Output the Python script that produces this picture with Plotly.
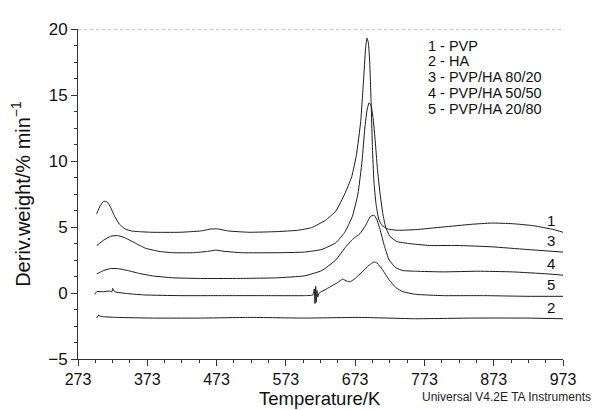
import plotly.graph_objects as go

# Curve 1 - PVP
t1 = [300, 305, 310, 315, 320, 326, 333, 341, 350, 360, 380, 420, 450, 465, 475, 490, 520, 560, 590, 610, 630, 645, 658, 668, 675, 681, 685, 688, 690, 692, 694, 696, 698, 700, 703, 707, 712, 720, 735, 760, 800, 840, 870, 900, 930, 960, 973]
y1 = [6.0, 6.6, 6.95, 6.9, 6.5, 5.8, 5.2, 4.85, 4.7, 4.65, 4.6, 4.6, 4.7, 4.85, 4.85, 4.7, 4.6, 4.65, 4.75, 4.95, 5.5, 6.2, 7.5, 8.8, 10.5, 13, 16, 18.5, 19.3, 19.0, 17.5, 14.5, 11, 8.5, 6.8, 5.6, 5.1, 4.85, 4.75, 4.8, 5.0, 5.2, 5.3, 5.25, 5.1, 4.8, 4.6]

# Curve 2 - HA
t2 = [300, 302, 305, 310, 330, 380, 450, 520, 600, 680, 760, 840, 920, 973]
y2 = [-1.9, -1.7, -1.75, -1.8, -1.85, -1.9, -1.9, -1.85, -1.9, -1.85, -1.95, -1.9, -1.9, -1.95]

# Curve 3 - PVP/HA 80/20
t3 = [300, 310, 320, 330, 340, 355, 370, 390, 410, 440, 460, 472, 485, 510, 560, 600, 625, 645, 658, 669, 677, 683, 687, 690, 693, 696, 699, 702, 705, 709, 713, 717, 723, 733, 750, 780, 820, 870, 920, 973]
y3 = [3.6, 4.0, 4.3, 4.35, 4.2, 3.8, 3.4, 3.15, 3.05, 3.05, 3.15, 3.25, 3.15, 3.05, 3.05, 3.1, 3.3, 3.8, 4.6, 5.8, 7.5, 10, 12.5, 13.8, 14.4, 14.2, 13.2, 11.5, 9.5, 7.5, 6, 5, 4.3, 3.9, 3.75, 3.6, 3.6, 3.5, 3.3, 3.1]

# Curve 4 - PVP/HA 50/50
t4 = [300, 310, 320, 330, 345, 360, 380, 410, 450, 500, 560, 600, 625, 645, 658, 670, 680, 688, 695, 700, 704, 709, 715, 722, 732, 742, 760, 800, 850, 900, 950, 973]
y4 = [1.45, 1.7, 1.85, 1.85, 1.7, 1.5, 1.3, 1.15, 1.1, 1.1, 1.15, 1.3, 1.7, 2.5, 3.4, 4.1, 4.5, 5.1, 5.8, 5.9, 5.6, 4.8, 3.6, 2.5, 1.9, 1.7, 1.65, 1.6, 1.65, 1.6, 1.45, 1.35]

# Curve 5 - PVP/HA 20/80
t5 = [297, 300, 310, 318, 322, 323, 326, 345, 370, 420, 480, 540, 600, 612, 614, 615, 616, 617, 618, 619, 621, 628, 638, 648, 655, 661, 666, 673, 683, 693, 700, 705, 712, 722, 732, 742, 760, 800, 860, 920, 973]
y5 = [-0.1, 0.1, 0.1, 0.15, 0.1, 0.35, 0.1, -0.05, -0.15, -0.2, -0.2, -0.2, -0.2, -0.15, 0.3, -0.8, 0.5, -0.7, 0.2, -0.3, 0.0, 0.2, 0.5, 0.8, 1.05, 0.9, 0.85, 1.1, 1.6, 2.1, 2.35, 2.25, 1.8, 1.0, 0.4, 0.1, -0.1, -0.2, -0.2, -0.25, -0.25]

curve_labels = ["1", "3", "4", "5", "2"]
legend_lines = ["1 - PVP", "2 - HA", "3 - PVP/HA 80/20", "4 - PVP/HA 50/50", "5 - PVP/HA 20/80"]
x_ticks = [273, 373, 473, 573, 673, 773, 873, 973]
y_ticks = [-5, 0, 5, 10, 15, 20]

FONT = "Liberation Sans, Arial, sans-serif"
# the page body adds an 8 px offset; size the figure so it lands on the 610x410 frame
OFF = 8
W, H = 610 - OFF, 410 - OFF
L, R, T, B = 78 - OFF, 47, 20 - OFF, 51
pw, ph = W - L - R, H - T - B


def px2paper(px, py):
    # px, py are positions in the 610x410 picture
    return (px - OFF - L) / pw, 1 - (py - OFF - T) / ph


fig = go.Figure()
for t, y in [(t1, y1), (t2, y2), (t3, y3), (t4, y4), (t5, y5)]:
    fig.add_trace(go.Scatter(x=t, y=y, mode="lines",
                             line=dict(color="#1a1a1a", width=1, shape="spline", smoothing=0.4),
                             showlegend=False, hoverinfo="skip"))

ends = [y1[-1], y3[-1], y4[-1], y5[-1], y2[-1]]
for lab, ye in zip(curve_labels, ends):
    fig.add_annotation(x=955, y=ye, text=lab, showarrow=False, xanchor="center",
                       yanchor="bottom", yshift=1, font=dict(size=15, color="#111", family=FONT))

for i, line in enumerate(legend_lines):
    ax, ay = px2paper(427, 37 + 16.2 * i)
    fig.add_annotation(x=ax, y=ay, xref="paper", yref="paper", text=line,
                       showarrow=False, xanchor="left", yanchor="middle", borderpad=0,
                       font=dict(size=14.5, color="#111", family=FONT))

fig.add_shape(type="line", xref="x", yref="y", x0=273, x1=973, y0=20, y1=20,
              line=dict(color="#888", width=1, dash="dot"))

ux, uy = px2paper(421, 398)
fig.add_annotation(x=ux, y=uy, xref="paper", yref="paper", text="Universal V4.2E TA Instruments",
                   showarrow=False, xanchor="left", yanchor="middle", borderpad=0,
                   font=dict(size=12, color="#222", family=FONT))

tx, ty = px2paper(320, 399.5)
fig.add_annotation(x=tx, y=ty, xref="paper", yref="paper", text="Temperature/K",
                   showarrow=False, xanchor="center", yanchor="middle", borderpad=0,
                   font=dict(size=18.5, color="#111", family=FONT))

fig.update_layout(
    width=W, height=H, margin=dict(l=L, r=R, t=T, b=B),
    plot_bgcolor="white", paper_bgcolor="white",
    font=dict(family=FONT, color="#111"),
    xaxis=dict(range=[273, 973], tickvals=x_ticks, ticktext=[str(v) for v in x_ticks],
               showgrid=False, zeroline=False, showline=True, linecolor="#333", linewidth=1,
               ticks="outside", ticklen=6, tickcolor="#333", tickfont=dict(size=16),
               minor=dict(tickvals=list(range(273, 974, 25)), ticks="outside", ticklen=3, tickcolor="#333")),
    yaxis=dict(range=[-5, 20], tickvals=y_ticks, ticktext=["\u22125", "0", "5", "10", "15", "20"],
               showgrid=False, zeroline=False, showline=True, linecolor="#333", linewidth=1,
               ticks="outside", ticklen=6, tickcolor="#333", tickfont=dict(size=17),
               minor=dict(tickvals=[-5 + 1.25 * k for k in range(21)], ticks="outside", ticklen=3, tickcolor="#333"),
               title=dict(text="Deriv.weight/% min<sup>\u22121</sup>", font=dict(size=20), standoff=12)),
)
fig.write_html("out.html")
